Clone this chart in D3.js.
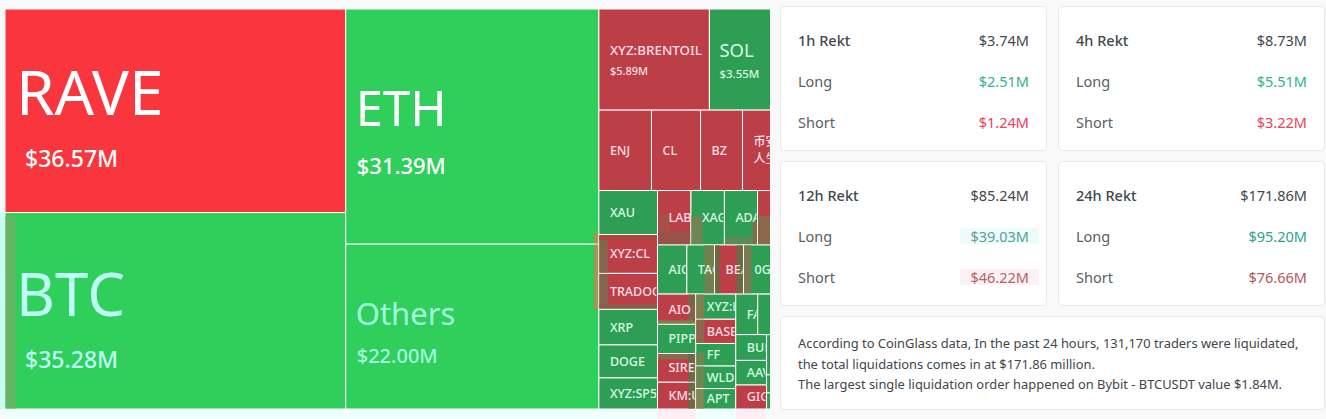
<!DOCTYPE html>
<html>
<head>
<meta charset="utf-8">
<script src="https://cdn.jsdelivr.net/npm/d3@7"></script>
<style>
  html, body { margin: 0; padding: 0; width: 1326px; height: 419px; overflow: hidden; background: #f9f9fa; font-family: "Noto Sans", sans-serif; }
  #map { position: absolute; left: 0; top: 0; }
  .tile-label { font-family: "Noto Sans", "Noto Sans CJK SC", sans-serif; }
  .card { position: absolute; box-sizing: border-box; background: #fff; border: 1px solid #e9e9ea; border-radius: 5px; }
  .row { position: absolute; left: 17px; right: 17px; display: flex; justify-content: space-between; font-size: 14.5px; color: #5b6066; line-height: 20px; }
  .row.head span:first-child { font-weight: 500; color: #43484d; }
  .amount.tinted { padding: 0 10px; margin-right: -10px; line-height: 16px; margin-top: 2px; height: 16px; }
  #note { left: 780px; top: 316px; width: 545px; height: 94px; padding: 16px 17px; font-size: 12.9px; line-height: 20.5px; color: #42464b; }
</style>
</head>
<body>
<svg id="map" width="770" height="419"></svg>
<script>
// top level tiles, $M. L = long heavy (green), S = short heavy (red)
var leftNames = ["RAVE", "BTC"], leftValues = [36.57, 35.28], leftSides = ["S", "L"];
var midNames = ["ETH", "Others"], midValues = [31.39, 22.00], midSides = ["L", "L"];
var topNames = ["XYZ:BRENTOIL", "SOL"], topValues = [5.89, 3.55], topSides = ["S", "L"];
var secondNames = ["ENJ", "CL", "BZ", "币安人生"], secondValues = [2.23, 2.08, 1.78, 1.42], secondSides = ["S", "S", "S", "S"];

// lower right block (no printed amounts, values estimated from tile area)
var stackNames = ["XAU", "XYZ:CL", "TRADOO", "XRP", "DOGE", "XYZ:SP500"], stackValues = [1.36, 1.20, 1.11, 1.10, 1.02, 0.96], stackSides = ["L", "S", "S", "L", "L", "L"];
var rowANames = ["LAB", "XAG", "ADA", ""], rowAValues = [0.96, 0.96, 0.95, 0.53], rowASides = ["S", "L", "L", "S"];
var rowBNames = ["AIO", "TAO", "BEA", "0G"], rowBValues = [0.76, 0.72, 0.75, 0.84], rowBSides = ["L", "L", "S", "L"];
var colANames = ["AIO", "PIPP", "SIRE", "KM:U"], colAValues = [0.61, 0.59, 0.58, 0.54], colASides = ["S", "L", "S", "S"];
var colBNames = ["XYZ:E", "BASE", "FF", "WLD", "APT"], colBValues = [0.53, 0.51, 0.475, 0.475, 0.43], colBSides = ["L", "S", "L", "L", "L"];
var faNames = ["FA", ""], faValues = [0.47, 0.39], faSides = ["L", "L"];
var bulNames = ["BUL", "AAV", "GIG"], bulValues = [0.42, 0.40, 0.39], bulSides = ["L", "L", "S"];
var stripNames = ["", "", ""], stripValues = [0.20, 0.09, 0.08], stripSides = ["L", "L", "L"];

var cardTitles = ["1h Rekt", "4h Rekt", "12h Rekt", "24h Rekt"];
var cardTotals = ["$3.74M", "$8.73M", "$85.24M", "$171.86M"];
var cardLongs = ["$2.51M", "$5.51M", "$39.03M", "$95.20M"];
var cardShorts = ["$1.24M", "$3.22M", "$46.22M", "$76.66M"];
var noteLines = [
  "According to CoinGlass data, In the past 24 hours, 131,170 traders were liquidated,",
  "the total liquidations comes in at $171.86 million.",
  "The largest single liquidation order happened on Bybit - BTCUSDT value $1.84M."
];

function line(names, values, sides) {
  return {
    children: names.map(function(n, i) { return { name: n, value: values[i], side: sides[i] }; })
  };
}
function group() {
  return { children: Array.prototype.slice.call(arguments) };
}

// treemapSliceDice flips direction per depth, so the nesting gives the layout
var tree = group(
  line(leftNames, leftValues, leftSides),
  line(midNames, midValues, midSides),
  group(
    line(topNames, topValues, topSides),
    line(secondNames, secondValues, secondSides),
    group(
      line(stackNames, stackValues, stackSides),
      group(
        line(rowANames, rowAValues, rowASides),
        line(rowBNames, rowBValues, rowBSides),
        group(
          line(colANames, colAValues, colASides),
          line(colBNames, colBValues, colBSides),
          group(
            line(faNames, faValues, faSides),
            group(line(bulNames, bulValues, bulSides), line(stripNames, stripValues, stripSides))
          )
        )
      )
    )
  )
);

var root = d3.hierarchy(tree).sum(function(d) { return d.value || 0; });
var mapSize = [771, 400];
d3.treemap().tile(d3.treemapSliceDice).size(mapSize)(root);

var chart = d3.select("#map").append("g").attr("transform", "translate(5,9)");

function isRed(d) { return d.data.side === "S"; }
function fillOf(d) {
  if (d.value > 20) return isRed(d) ? "#f9363d" : "#30ce5b";
  return isRed(d) ? "#bc3f48" : "#2f9e55";
}
function tileKey(d) { return d.data.name + "/" + d.data.side; }

// type per tile: name size, value size, name x, value x, name dy, value dy
var typeOf = {
  "RAVE": [62, 23, 11, 20, 4.5, 56.5],
  "BTC": [60, 23, 11, 20, 5, 57.5],
  "ETH": [49, 22, 10, 11, -1, 47],
  "Others": [31, 20, 10, 11, -2, 36],
  "XYZ:BRENTOIL": [13.4, 11, 11, 11, -5, 15],
  "SOL": [18.5, 11.5, 10, 10, -2.5, 18.5]
};
var smallType = [12.5, 11, 11, 11, 4.5, 0];

// washed out patches the capture left on the tiles, as fractions of the tile: key, x0, x1, y0, y1, colour
var washKeys = ["BTC/L", "ETH/L", "Others/L", "LAB/S", "LAB/S", "XAG/L", "ADA/L", "ADA/L", "/S", "TAO/L", "BEA/S", "BEA/S", "0G/L",
  "XYZ:CL/S", "XYZ:CL/S", "TRADOO/S", "TRADOO/S", "AIO/S", "AIO/S", "SIRE/S", "SIRE/S", "KM:U/S", "XYZ:E/L", "BASE/S", "FF/L", "WLD/L", "APT/L"];
var washBoxes = [
  [0, .032, .02, 1], [.98, 1, .95, 1], [.98, 1, 0, .4], [0, .35, .43, .75], [0, 1, .75, 1], [0, .35, .47, 1], [0, 1, .85, 1], [.86, 1, .55, 1], [0, 1, .47, 1],
  [.62, 1, 0, 1], [0, .17, 0, 1], [.76, 1, 0, 1], [0, .24, 0, 1],
  [0, .155, 0, 1], [0, 1, 0, .15], [0, .155, 0, 1], [0, 1, .85, 1], [.8, 1, 0, 1], [0, 1, .87, 1], [0, 1, 0, .2], [.8, 1, 0, 1], [.8, 1, 0, 1],
  [0, .21, 0, 1], [0, .21, 0, 1], [0, .21, .4, 1], [0, .21, 0, 1], [0, .21, 0, 1]
];
var washColours = ["#62b862", "#9c9a55", "#9c9a55", "#a85048", "#97524a", "#6f8552", "#5c8a58", "#8a6a4a", "#8a6a4a", "#71804f", "#6b6a45", "#6a6a45", "#7a7a4e",
  "#85664a", "#b0443f", "#85664a", "#8e5c4a", "#80644a", "#7f7f50", "#8a6a4a", "#6f6a45", "#6f6a45", "#7f7f50", "#8a6a4a", "#6f8552", "#6f8552", "#7f8a55"];

function textColour(d) {
  if (d.data.name === "BTC") return "#bdfdf6";
  if (d.data.name === "Others") return "#a4fbe0";
  if (d.value > 20) return "#fff";
  return isRed(d) ? "#ffdde5" : "#d6fbe4";
}

// pale halo on the page below the tiles on the bottom edge
var bottomTiles = root.leaves().filter(function(d) { return d.y1 >= mapSize[1] - 1; });
chart.selectAll("rect.halo")
  .data(bottomTiles)
  .enter().append("rect")
  .attr("class", "halo")
  .attr("x", function(d) { return d.x0; })
  .attr("y", function(d) { return d.y1; })
  .attr("width", function(d) { return d.x1 - d.x0; })
  .attr("height", 10)
  .attr("fill", function(d) { return isRed(d) ? "#ffeff4" : "#effffc"; });

// and the stronger one left of BTC
chart.selectAll("rect.halo-left")
  .data(bottomTiles.filter(function(d) { return d.x0 === 0; }))
  .enter().append("rect")
  .attr("class", "halo-left")
  .attr("x", -5)
  .attr("y", function(d) { return d.y0; })
  .attr("width", 5)
  .attr("height", function(d) { return d.y1 - d.y0; })
  .attr("fill", "#c8fff5");

var cells = chart.selectAll("g.cell")
  .data(root.leaves())
  .enter().append("g")
  .attr("class", "cell")
  .attr("transform", function(d) { return "translate(" + d.x0 + "," + d.y0 + ")"; });

cells.append("rect")
  .attr("width", function(d) { return d.x1 - d.x0; })
  .attr("height", function(d) { return d.y1 - d.y0; })
  .attr("fill", fillOf)
  .attr("stroke", "#fff")
  .attr("stroke-width", 1);

cells.each(function(d) {
  var w = d.x1 - d.x0, h = d.y1 - d.y0, g = d3.select(this);
  washKeys.forEach(function(k, i) {
    if (k !== tileKey(d)) return;
    var b = washBoxes[i];
    g.append("rect")
      .attr("x", Math.max(.5, b[0] * w))
      .attr("y", Math.max(.5, b[2] * h))
      .attr("width", Math.min(w - .5, b[1] * w) - Math.max(.5, b[0] * w))
      .attr("height", Math.min(h - .5, b[3] * h) - Math.max(.5, b[2] * h))
      .attr("fill", washColours[i]);
  });
});

cells.append("clipPath")
  .attr("id", function(d, i) { return "clip" + i; })
  .append("rect")
  .attr("width", function(d) { return d.x1 - d.x0 - 1; })
  .attr("height", function(d) { return d.y1 - d.y0; });

var labels = cells.append("g")
  .attr("clip-path", function(d, i) { return "url(#clip" + i + ")"; });

labels.each(function(d) {
  var g = d3.select(this), name = d.data.name, cy = (d.y1 - d.y0) / 2;
  if (!name) return;
  var t = typeOf[name] || smallType;
  function put(str, x, y, size, weight) {
    g.append("text")
      .attr("class", "tile-label")
      .attr("x", x).attr("y", y)
      .attr("font-size", size)
      .attr("font-weight", weight)
      .attr("fill", textColour(d))
      .text(str);
  }
  if (name === "币安人生") {
    put(name.slice(0, 2), t[2], cy - 4, 12, 500);
    put(name.slice(2), t[2], cy + 13, 12, 500);
    return;
  }
  put(name, t[2], cy + t[4], t[0], typeOf[name] && t[0] > 14 ? 400 : 500);
  if (typeOf[name]) put("$" + d.value.toFixed(2) + "M", t[3], cy + t[5], t[1], 500);
});

// summary cards
var cardX = d3.scalePoint().domain([0, 1]).range([780, 1058]);
var cardY = d3.scalePoint().domain([0, 1]).range([6, 161]);
var longColours = ["#2cb391", "#2cb391", "#5b9f98", "#2e9f90"];
var shortColours = ["#ee4058", "#ee4058", "#b2655f", "#b3565b"];
var longTints = [null, null, "#edfbfb", null];
var shortTints = [null, null, "#fef1f5", null];

var cards = d3.select("body").selectAll("div.stat")
  .data(cardTitles)
  .enter().append("div")
  .attr("class", "card stat")
  .style("left", function(d, i) { return cardX(i % 2) + "px"; })
  .style("top", function(d, i) { return cardY(i < 2 ? 0 : 1) + "px"; })
  .style("width", "267px")
  .style("height", "144.5px");

function addRow(sel, cls, top, left, right, colour, tint) {
  var row = sel.append("div").attr("class", "row " + cls).style("top", top + "px");
  row.append("span").text(left);
  row.append("span")
    .attr("class", tint ? "amount tinted" : "amount")
    .style("color", colour)
    .style("background", tint)
    .text(right);
}
cards.each(function(d, i) {
  var c = d3.select(this);
  addRow(c, "head", 23, d, cardTotals[i], "#43484d");
  addRow(c, "", 64, "Long", cardLongs[i], longColours[i], longTints[i]);
  addRow(c, "", 105, "Short", cardShorts[i], shortColours[i], shortTints[i]);
});

var note = d3.select("body").append("div").attr("id", "note").attr("class", "card");
note.selectAll("div").data(noteLines).enter().append("div").text(function(d) { return d; });
</script>
</body>
</html>
